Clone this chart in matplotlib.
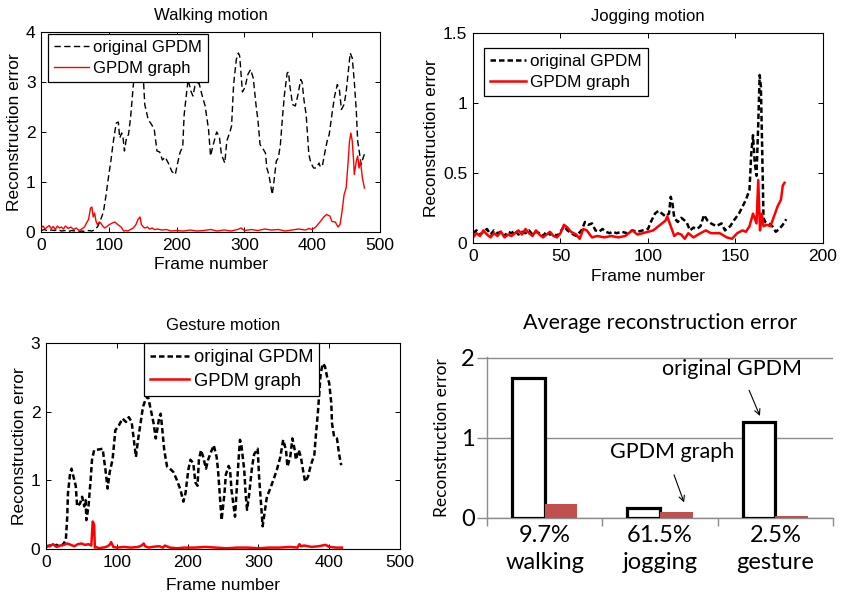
import matplotlib
matplotlib.use("Agg")
import matplotlib.pyplot as plt
import numpy as np

# ---- walking motion ----
walk_orig_frames = [
    0, 5, 10, 15, 20, 25, 30, 35, 40, 45,
    50, 55, 60, 65, 70, 75, 80, 84, 88, 92,
    96, 100, 103, 106, 109, 111, 114, 116, 119, 121,
    123, 126, 129, 132, 135, 137, 141, 146, 150, 153,
    158, 163, 167, 171, 175, 179, 183, 188, 193, 198,
    201, 205, 209, 211, 214, 217, 221, 224, 227, 233,
    237, 242, 247, 250, 254, 259, 263, 266, 271, 274,
    279, 281, 284, 288, 291, 293, 297, 301, 305, 309,
    313, 317, 320, 323, 328, 331, 333, 336, 341, 343,
    347, 350, 353, 356, 359, 363, 365, 367, 371, 375,
    379, 383, 385, 388, 391, 395, 398, 402, 406, 410,
    412, 415, 418, 422, 425, 429, 433, 437, 440, 443,
    447, 450, 453, 456, 459, 462, 465, 467, 470, 472,
    475, 478]
walk_orig = [
    0.03, 0.05, 0.02, 0.04, 0.03, 0.05, 0.02, 0.03, 0.01, 0.03,
    0.02, 0.00, 0.02, 0.01, 0.03, 0.02, 0.05, 0.12, 0.25, 0.40,
    0.75, 1.15, 1.42, 1.75, 2.02, 2.18, 2.20, 1.88, 1.98, 1.88,
    1.62, 1.88, 1.95, 2.28, 2.75, 3.08, 3.50, 3.70, 3.30, 2.55,
    2.25, 2.15, 2.05, 1.62, 1.60, 1.44, 1.50, 1.37, 1.21, 1.15,
    1.35, 1.59, 1.71, 2.33, 2.71, 3.05, 2.82, 2.72, 2.92, 2.98,
    2.76, 2.52, 2.06, 1.52, 1.75, 2.00, 1.91, 1.55, 1.38, 1.82,
    2.02, 2.12, 2.95, 3.45, 3.58, 3.52, 2.80, 2.90, 3.15, 3.25,
    3.08, 2.55, 2.22, 1.75, 1.65, 1.58, 1.28, 1.15, 0.75, 0.95,
    1.42, 1.48, 1.75, 2.28, 2.75, 3.18, 3.20, 2.92, 2.55, 2.52,
    2.75, 3.05, 3.00, 2.62, 2.35, 1.55, 1.38, 1.28, 1.28, 1.38,
    1.30, 1.33, 1.55, 1.82, 1.95, 2.35, 2.72, 2.95, 2.85, 2.45,
    2.55, 2.80, 3.20, 3.58, 3.48, 3.01, 2.42, 1.82, 1.55, 1.35,
    1.48, 1.60]
walk_red_frames = [
    0, 3, 6, 9, 12, 15, 18, 21, 24, 27,
    30, 33, 36, 40, 44, 48, 52, 56, 60, 64,
    67, 70, 73, 75, 77, 79, 81, 83, 86, 88,
    91, 94, 98, 101, 105, 109, 113, 118, 122, 125,
    128, 132, 136, 140, 143, 146, 148, 151, 153, 157,
    160, 164, 167, 172, 178, 185, 192, 200, 210, 220,
    230, 240, 250, 260, 270, 280, 290, 295, 300, 310,
    320, 330, 340, 350, 360, 370, 380, 390, 395, 400,
    405, 412, 417, 421, 426, 429, 434, 438, 441, 444,
    447, 450, 453, 455, 457, 459, 461, 462, 465, 467,
    469, 471, 474, 476, 477]
walk_red = [
    0.08, 0.12, 0.06, 0.10, 0.13, 0.07, 0.11, 0.05, 0.12, 0.08,
    0.10, 0.06, 0.12, 0.07, 0.10, 0.05, 0.08, 0.03, 0.06, 0.10,
    0.18, 0.25, 0.48, 0.50, 0.30, 0.38, 0.22, 0.15, 0.20, 0.18,
    0.12, 0.08, 0.12, 0.15, 0.18, 0.20, 0.15, 0.10, 0.02, 0.03,
    0.02, 0.05, 0.08, 0.15, 0.25, 0.30, 0.15, 0.10, 0.08, 0.10,
    0.06, 0.08, 0.05, 0.06, 0.04, 0.05, 0.02, 0.03, 0.02, 0.04,
    0.02, 0.03, 0.05, 0.02, 0.04, 0.02, 0.05, 0.08, 0.03, 0.05,
    0.03, 0.06, 0.04, 0.05, 0.02, 0.04, 0.06, 0.04, 0.07, 0.05,
    0.10, 0.21, 0.30, 0.35, 0.32, 0.21, 0.20, 0.10, 0.15, 0.42,
    0.75, 0.88, 1.42, 1.82, 1.98, 1.82, 1.42, 1.15, 1.42, 1.52,
    1.28, 1.42, 1.08, 0.95, 0.88]

# ---- jogging motion ----
jog_orig_frames = [
    0, 2, 4, 6, 8, 10, 12, 14, 16, 18,
    20, 22, 24, 26, 28, 30, 32, 34, 36, 38,
    40, 42, 44, 46, 48, 50, 52, 54, 56, 59,
    62, 64, 66, 68, 70, 72, 74, 76, 78, 80,
    82, 85, 88, 91, 94, 97, 100, 102, 104, 106,
    108, 110, 112, 113, 114, 115, 117, 119, 122, 124,
    126, 128, 130, 132, 134, 136, 139, 142, 144, 147,
    149, 152, 154, 156, 158, 159, 160, 161, 162, 163,
    163.8, 164.5, 165.2, 166, 167, 169, 171, 173, 175, 177,
    179]
jog_orig = [
    0.07, 0.09, 0.06, 0.08, 0.10, 0.06, 0.09, 0.07, 0.08, 0.05,
    0.08, 0.07, 0.09, 0.06, 0.08, 0.07, 0.09, 0.06, 0.08, 0.07,
    0.05, 0.08, 0.06, 0.07, 0.05, 0.08, 0.12, 0.09, 0.07, 0.05,
    0.09, 0.15, 0.13, 0.14, 0.09, 0.08, 0.10, 0.08, 0.07, 0.08,
    0.07, 0.08, 0.07, 0.09, 0.08, 0.09, 0.10, 0.16, 0.21, 0.23,
    0.21, 0.19, 0.21, 0.33, 0.28, 0.18, 0.15, 0.18, 0.15, 0.09,
    0.11, 0.10, 0.12, 0.20, 0.16, 0.14, 0.12, 0.14, 0.09, 0.12,
    0.16, 0.21, 0.26, 0.31, 0.38, 0.64, 0.77, 0.57, 0.48, 0.85,
    1.20, 1.12, 0.70, 0.18, 0.15, 0.14, 0.12, 0.08, 0.10, 0.13,
    0.17]
jog_red_frames = [
    0, 2, 4, 6, 8, 10, 12, 14, 16, 18,
    20, 22, 24, 26, 28, 30, 32, 34, 36, 38,
    40, 42, 44, 46, 48, 50, 52, 54, 56, 59,
    61, 63, 65, 68, 71, 75, 79, 83, 87, 91,
    94, 97, 100, 103, 106, 108, 110, 111, 113, 115,
    117, 119, 121, 123, 126, 130, 133, 136, 141, 145,
    148, 151, 154, 156, 158, 160, 162, 163, 164, 165,
    166, 168, 170, 172, 174, 176, 177, 178]
jog_red = [
    0.04, 0.07, 0.05, 0.09, 0.06, 0.04, 0.07, 0.05, 0.08, 0.04,
    0.06, 0.05, 0.07, 0.09, 0.06, 0.10, 0.07, 0.05, 0.09, 0.06,
    0.04, 0.06, 0.08, 0.05, 0.04, 0.07, 0.13, 0.11, 0.08, 0.06,
    0.03, 0.10, 0.09, 0.04, 0.05, 0.04, 0.05, 0.04, 0.05, 0.09,
    0.06, 0.07, 0.08, 0.09, 0.12, 0.14, 0.16, 0.19, 0.12, 0.05,
    0.07, 0.06, 0.03, 0.07, 0.04, 0.07, 0.09, 0.07, 0.07, 0.04,
    0.03, 0.07, 0.09, 0.08, 0.12, 0.21, 0.14, 0.45, 0.09, 0.21,
    0.12, 0.13, 0.12, 0.19, 0.26, 0.31, 0.41, 0.43]

# ---- gesture motion ----
gest_orig_frames = [
    0, 5, 10, 15, 20, 25, 28, 30, 31, 34,
    36, 40, 42, 44, 48, 51, 54, 56, 57, 60,
    63, 65, 68, 75, 80, 84, 87, 90, 94, 98,
    103, 108, 113, 117, 121, 124, 127, 130, 134, 137,
    141, 144, 148, 152, 155, 157, 160, 162, 164, 167,
    171, 175, 180, 185, 190, 194, 197, 201, 204, 208,
    211, 214, 216, 219, 222, 226, 229, 233, 237, 241,
    243, 246, 248, 252, 254, 258, 260, 262, 265, 267,
    269, 272, 274, 276, 280, 282, 284, 287, 291, 294,
    299, 301, 304, 306, 308, 312, 316, 321, 326, 331,
    335, 339, 341, 345, 348, 351, 353, 357, 360, 363,
    366, 370, 374, 379, 381, 384, 386, 388, 391, 394,
    397, 400, 403, 404, 407, 411, 414, 417]
gest_orig = [
    0.03, 0.05, 0.04, 0.06, 0.03, 0.08, 0.13, 0.47, 0.81, 1.10,
    1.17, 1.00, 0.92, 0.62, 0.66, 0.76, 0.62, 0.71, 0.42, 0.62,
    1.00, 1.30, 1.44, 1.45, 1.46, 1.15, 0.88, 1.12, 1.30, 1.73,
    1.80, 1.90, 1.85, 1.92, 1.85, 1.59, 1.34, 1.59, 1.87, 2.07,
    2.19, 2.22, 2.03, 1.83, 1.61, 1.73, 1.92, 1.97, 1.77, 1.44,
    1.20, 1.17, 1.12, 1.00, 0.86, 0.69, 0.81, 1.15, 1.30, 1.25,
    0.97, 0.92, 1.30, 1.44, 1.34, 1.17, 1.30, 1.41, 1.51, 1.34,
    1.15, 0.71, 0.42, 0.80, 1.08, 1.21, 1.15, 0.86, 0.62, 0.47,
    0.80, 1.30, 1.59, 1.51, 1.15, 0.80, 0.57, 0.80, 1.19, 1.38,
    1.46, 1.05, 0.62, 0.33, 0.47, 0.76, 0.86, 1.00, 1.15, 1.34,
    1.59, 1.44, 1.20, 1.34, 1.61, 1.46, 1.30, 1.44, 1.34, 1.15,
    0.98, 1.05, 1.22, 1.37, 1.63, 1.98, 2.27, 2.56, 2.70, 2.66,
    2.51, 2.42, 2.12, 1.83, 1.63, 1.61, 1.38, 1.22]
gest_red_frames = [
    0, 5, 10, 15, 20, 25, 30, 35, 40, 45,
    50, 55, 60, 64, 66, 67, 68, 69, 70, 75,
    80, 85, 90, 92, 95, 100, 110, 120, 130, 135,
    138, 140, 145, 150, 160, 165, 168, 175, 185, 195,
    210, 225, 240, 255, 270, 285, 300, 315, 330, 345,
    355, 358, 360, 365, 375, 385, 395, 400, 410, 418]
gest_red = [
    0.05, 0.04, 0.07, 0.03, 0.05, 0.06, 0.08, 0.06, 0.04, 0.07,
    0.08, 0.06, 0.07, 0.05, 0.40, 0.38, 0.35, 0.02, 0.03, 0.01,
    0.02, 0.03, 0.06, 0.10, 0.03, 0.02, 0.03, 0.02, 0.03, 0.05,
    0.08, 0.04, 0.02, 0.03, 0.04, 0.02, 0.05, 0.02, 0.01, 0.02,
    0.02, 0.03, 0.02, 0.01, 0.02, 0.02, 0.01, 0.02, 0.02, 0.03,
    0.02, 0.07, 0.04, 0.05, 0.03, 0.04, 0.06, 0.03, 0.02, 0.02]

# ---- average reconstruction error ----
categories = ['walking', 'jogging', 'gesture']
percents = ['9.7%', '61.5%', '2.5%']
avg_orig = [1.75, 0.13, 1.20]
avg_graph = [0.17, 0.07, 0.03]

LINE_FONT = 'Liberation Sans'
BAR_FONT = 'Lato'


def line_panel(fig, rect, title, xo, yo, xr, yr, xlim, xticks, ylim, yticks,
               lw, dashes, legend_anchor, legend_size, xlabelpad):
    ax = fig.add_axes(rect)
    ax.plot(xo, yo, color='black', lw=lw, dashes=dashes, label='original GPDM')
    ax.plot(xr, yr, color='red', lw=lw, label='GPDM graph')
    ax.set_xlim(xlim)
    ax.set_ylim(ylim)
    ax.set_xticks(xticks)
    ax.set_yticks(yticks)
    ax.set_xticklabels([f'{t:g}' for t in xticks])
    ax.set_yticklabels([f'{t:g}' for t in yticks])
    ax.tick_params(direction='in', top=True, right=True, length=3.5,
                   width=0.7, labelsize=12.5, pad=4)
    for lab in ax.get_xticklabels() + ax.get_yticklabels():
        lab.set_family(LINE_FONT)
    for sp in ax.spines.values():
        sp.set_linewidth(0.8)
    ax.set_title(title, fontsize=12, family=LINE_FONT, pad=9)
    ax.set_xlabel('Frame number', fontsize=12.5, family=LINE_FONT,
                  labelpad=xlabelpad)
    ax.set_ylabel('Reconstruction error', fontsize=12.5, family=LINE_FONT,
                  labelpad=3)
    leg = ax.legend(loc='upper left', bbox_to_anchor=legend_anchor,
                    borderaxespad=0, fancybox=False, framealpha=1,
                    edgecolor='black', handlelength=2.1, handletextpad=0.25,
                    borderpad=0.35, labelspacing=0.35,
                    prop={'family': LINE_FONT, 'size': legend_size})
    leg.get_frame().set_linewidth(0.9)
    return ax


fig = plt.figure(figsize=(8.41, 5.96), dpi=100)

line_panel(fig, [0.0488, 0.6107, 0.4031, 0.3356], 'Walking motion',
           walk_orig_frames, walk_orig, walk_red_frames, walk_red,
           (0, 500), [0, 100, 200, 300, 400, 500], (0, 4), [0, 1, 2, 3, 4],
           1.0, (4.5, 2.5), (0.02, 0.99), 12, 3)

line_panel(fig, [0.5624, 0.5923, 0.4162, 0.3523], 'Jogging motion',
           jog_orig_frames, jog_orig, jog_red_frames, jog_red,
           (0, 200), [0, 50, 100, 150, 200], (0, 1.5), [0, 0.5, 1, 1.5],
           1.8, (2.2, 1.2), (0.031, 0.929), 12.3, 4)

line_panel(fig, [0.0547, 0.0789, 0.4209, 0.3456], 'Gesture motion',
           gest_orig_frames, gest_orig, gest_red_frames, gest_red,
           (0, 500), [0, 100, 200, 300, 400, 500], (0, 3), [0, 1, 2, 3],
           1.8, (2.2, 1.2), (0.277, 1.0), 13.2, 6)

# ---- bar panel ----
ax4 = fig.add_axes([0.5791, 0.1309, 0.4114, 0.2701])
x = np.arange(len(categories))
w = 0.283
grid_gray = '#8c8c8c'
ax4.bar(x - w / 2, avg_orig, w, facecolor='white', edgecolor='black',
        linewidth=2.3, zorder=3)
ax4.bar(x + w / 2, avg_graph, w, color='#C0504D', zorder=3)
ax4.set_xlim(-0.5, 2.5)
ax4.set_ylim(0, 2.01)
ax4.set_yticks([0, 1, 2])
ax4.set_yticklabels(['0', '1', '2'], family=BAR_FONT, fontsize=17)
ax4.yaxis.grid(True, color=grid_gray, lw=1)
ax4.set_axisbelow(True)
ax4.set_xticks([-0.5, 0.5, 1.5, 2.5])
ax4.set_xticklabels([])
ax4.set_xticks(x, minor=True)
ax4.set_xticklabels([f'{p}\n{c}' for p, c in zip(percents, categories)],
                    minor=True, family=BAR_FONT, fontsize=17, linespacing=1.38)
ax4.tick_params(axis='x', which='major', direction='out', length=6,
                color=grid_gray, width=1)
ax4.tick_params(axis='x', which='minor', length=0, pad=5)
ax4.tick_params(axis='y', direction='out', length=7, color=grid_gray,
                width=1, pad=2)
for side in ['top', 'right']:
    ax4.spines[side].set_visible(False)
for side in ['left', 'bottom']:
    ax4.spines[side].set_color(grid_gray)
    ax4.spines[side].set_linewidth(1)
ax4.set_title('Average reconstruction error', family=BAR_FONT, fontsize=15.5,
              pad=20)
ax4.set_ylabel('Reconstruction error', family=BAR_FONT, fontsize=12.5,
               labelpad=8)

ax4.text(1.624, 1.863, 'original GPDM', family=BAR_FONT, fontsize=15.5,
         ha='center', va='center')
ax4.annotate('', xy=(1.876, 1.242), xytext=(1.763, 1.627),
             arrowprops=dict(arrowstyle='->', color='black', lw=0.8))
ax4.text(1.104, 0.82, 'GPDM graph', family=BAR_FONT, fontsize=15.5,
         ha='center', va='center')
ax4.annotate('', xy=(1.217, 0.161), xytext=(1.113, 0.571),
             arrowprops=dict(arrowstyle='->', color='black', lw=0.8))

fig.savefig('out.png', dpi=100)
